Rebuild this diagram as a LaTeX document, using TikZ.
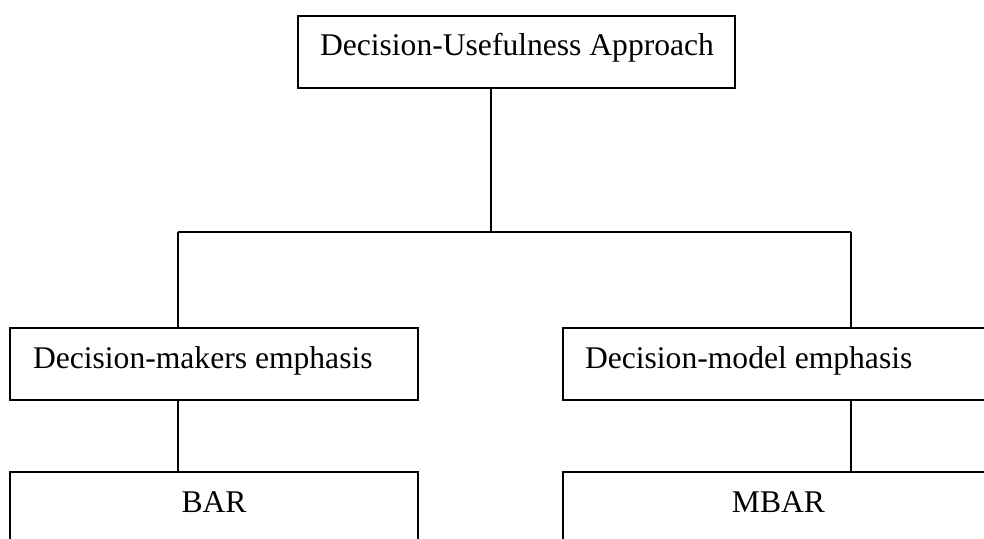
\documentclass[tikz,border=0pt]{standalone}
\usepackage{fontspec}
\setmainfont{Liberation Serif}
\begin{document}
\begin{tikzpicture}[x=1pt,y=-1pt,
  box/.style={draw=black,line width=1.6pt,rectangle,inner sep=0pt,outer sep=0pt,anchor=north west},
  lbl/.style={inner sep=0pt,outer sep=0pt,font=\fontsize{31.6}{38}\selectfont},
  thinline/.style={draw=black,line width=1.1pt},
  midline/.style={draw=black,line width=1.5pt},
  thickline/.style={draw=black,line width=1.8pt}]
\useasboundingbox (0,0) rectangle (984,538);
\clip (0,0) rectangle (984,538);
\fill[white] (0,0) rectangle (984,538);
% boxes
\node[box,minimum width=437pt,minimum height=72pt] (top) at (298,16) {};
\node[box,minimum width=408pt,minimum height=72pt] (lm) at (10,328) {};
\node[box,minimum width=431pt,minimum height=72pt] (rm) at (563,328) {};
\node[box,minimum width=408pt,minimum height=120pt] (lb) at (10,472) {};
\node[box,minimum width=431pt,minimum height=120pt] (rb) at (563,472) {};
% texts
\node[lbl,anchor=base west] (topT) at (320,55) {Decision-Usefulness Approach};
\node[lbl,anchor=base west] (lmT) at (33,368) {Decision-makers emphasis};
\node[lbl,anchor=base west] (rmT) at (585,368) {Decision-model emphasis};
\node[lbl,anchor=base] (lbT) at (214,512) {BAR};
\node[lbl,anchor=base] (rbT) at (778.5,512) {MBAR};
% junctions
\coordinate (j) at (491,232);
\coordinate (jl) at (178,232);
\coordinate (jr) at (851,232);
% connectors
\draw[midline] (top.south -| j) -- (j);
\draw[midline] (jl) -- (jr);
\draw[thinline] (jl) -- (jl |- lm.north);
\draw[thickline] (jr) -- (jr |- rm.north);
\draw[thinline] (lm.south -| jl) -- (jl |- lb.north);
\draw[thickline] (rm.south -| jr) -- (jr |- rb.north);
\end{tikzpicture}
\end{document}
